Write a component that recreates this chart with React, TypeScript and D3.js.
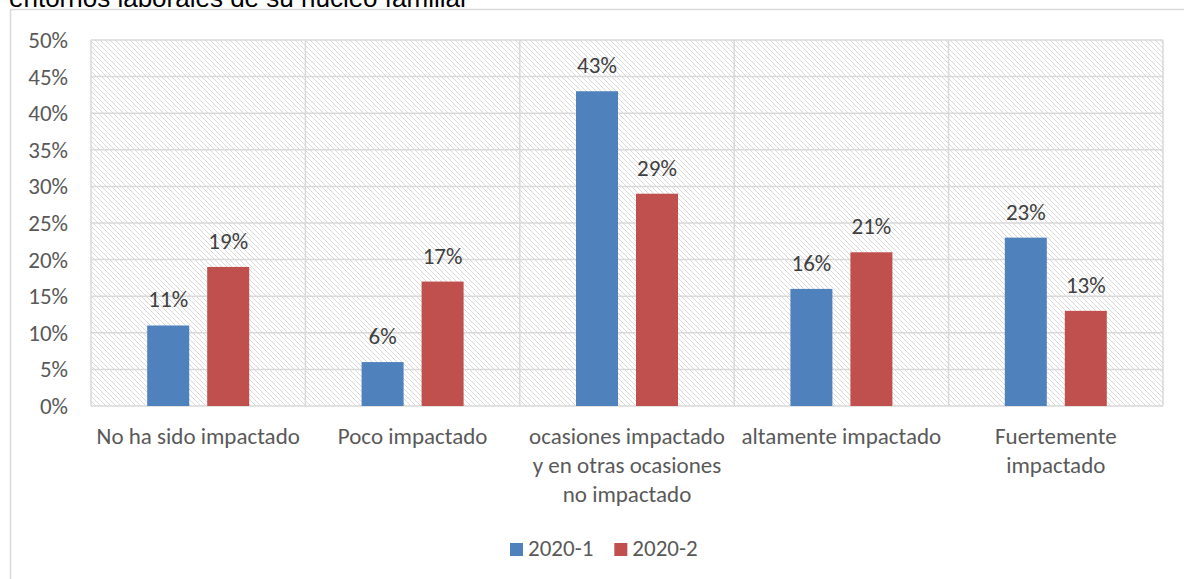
import * as d3 from "d3";
import React, { useEffect, useRef } from "react";

const categories = [
  ["No ha sido impactado"],
  ["Poco impactado"],
  ["ocasiones impactado", "y en otras ocasiones", "no impactado"],
  ["altamente impactado"],
  ["Fuertemente", "impactado"],
];
const series = ["2020-1", "2020-2"];
const values2020_1 = [11, 6, 43, 16, 23];
const values2020_2 = [19, 17, 29, 21, 13];
const yTicks = [0, 5, 10, 15, 20, 25, 30, 35, 40, 45, 50];
const colors = ["#4f81bd", "#c0504d"];

const FONT = "Carlito, Calibri, Lato, sans-serif";
const FS = 23;

export default function App() {
  const ref = useRef<SVGSVGElement | null>(null);

  useEffect(() => {
    const svg = d3.select(ref.current);
    svg.selectAll("*").remove();

    const width = 1184;
    const height = 579;
    const plot = { left: 91, right: 1163, top: 40, bottom: 406 };

    svg.attr("width", width).attr("height", height);

    const defs = svg.append("defs");
    const pat = defs
      .append("pattern")
      .attr("id", "hatch")
      .attr("patternUnits", "userSpaceOnUse")
      .attr("width", 5)
      .attr("height", 5);
    pat.append("rect").attr("width", 5).attr("height", 5).attr("fill", "#fff");
    pat
      .append("path")
      .attr("d", "M-1,-1 L6,6 M-1,4 L1,6 M4,-1 L6,1")
      .attr("stroke", "#dadada")
      .attr("stroke-width", 1);

    // title, cut off by the top edge as in the source picture
    svg
      .append("text")
      .attr("x", 9)
      .attr("y", 7)
      .attr("font-family", "Liberation Sans, Arial, sans-serif")
      .attr("font-size", 26)
      .attr("fill", "#000")
      .text("entornos laborales de su núcleo familiar");

    // outer frame
    svg
      .append("path")
      .attr("d", `M10.5,${height} L10.5,9.5 L${width},9.5`)
      .attr("fill", "none")
      .attr("stroke", "#d9d9d9")
      .attr("stroke-width", 1.5);

    const names = categories.map((c) => c.join(" "));
    const x0 = d3.scaleBand().domain(names).range([plot.left, plot.right]).padding(0);
    const bw = x0.bandwidth();
    const x1 = d3
      .scaleBand()
      .domain(series)
      .range([bw / 2 - 51, bw / 2 + 51])
      .paddingInner(0.3)
      .paddingOuter(0);
    const y = d3.scaleLinear().domain([0, 50]).range([plot.bottom, plot.top]);

    svg
      .append("rect")
      .attr("x", plot.left)
      .attr("y", plot.top)
      .attr("width", plot.right - plot.left)
      .attr("height", plot.bottom - plot.top)
      .attr("fill", "url(#hatch)");

    // gridlines
    const grid = svg.append("g").attr("stroke", "#d9d9d9").attr("stroke-width", 1.5);
    yTicks.forEach((t) => {
      grid
        .append("line")
        .attr("x1", plot.left)
        .attr("x2", plot.right)
        .attr("y1", y(t))
        .attr("y2", y(t));
    });
    names.forEach((n) => {
      grid
        .append("line")
        .attr("x1", x0(n)!)
        .attr("x2", x0(n)!)
        .attr("y1", plot.top)
        .attr("y2", plot.bottom);
    });
    grid
      .append("line")
      .attr("x1", plot.right)
      .attr("x2", plot.right)
      .attr("y1", plot.top)
      .attr("y2", plot.bottom);

    // y labels
    svg
      .append("g")
      .selectAll("text")
      .data(yTicks)
      .enter()
      .append("text")
      .attr("x", 68)
      .attr("y", (d) => y(d) + 8)
      .attr("text-anchor", "end")
      .attr("font-family", FONT)
      .attr("font-size", FS)
      .attr("fill", "#595959")
      .text((d) => `${d}%`);

    // bars
    const all = [values2020_1, values2020_2];
    all.forEach((vals, si) => {
      const g = svg.append("g");
      g.selectAll("rect")
        .data(vals)
        .enter()
        .append("rect")
        .attr("x", (_, i) => x0(names[i])! + x1(series[si])!)
        .attr("y", (d) => y(d))
        .attr("width", x1.bandwidth())
        .attr("height", (d) => y(0) - y(d))
        .attr("fill", colors[si]);
      g.selectAll("text")
        .data(vals)
        .enter()
        .append("text")
        .attr("x", (_, i) => x0(names[i])! + x1(series[si])! + x1.bandwidth() / 2)
        .attr("y", (d) => y(d) - 18)
        .attr("text-anchor", "middle")
        .attr("font-family", FONT)
        .attr("font-size", FS)
        .attr("fill", "#404040")
        .text((d) => `${d}%`);
    });

    // category labels
    categories.forEach((lines, i) => {
      const cx = x0(names[i])! + bw / 2;
      const t = svg
        .append("text")
        .attr("text-anchor", "middle")
        .attr("font-family", FONT)
        .attr("font-size", FS)
        .attr("fill", "#595959");
      lines.forEach((l, j) => {
        t.append("tspan")
          .attr("x", cx)
          .attr("y", 444 + j * 29)
          .text(l);
      });
    });

    // legend
    const legend = svg.append("g").attr("transform", "translate(510,549)");
    let lx = 0;
    series.forEach((s, i) => {
      legend
        .append("rect")
        .attr("x", lx)
        .attr("y", -6)
        .attr("width", 13)
        .attr("height", 13)
        .attr("fill", colors[i]);
      const txt = legend
        .append("text")
        .attr("x", lx + 18)
        .attr("y", 7)
        .attr("font-family", FONT)
        .attr("font-size", FS)
        .attr("fill", "#595959")
        .text(s);
      const w = (txt.node() as SVGTextElement).getComputedTextLength();
      lx += 18 + w + 21;
    });
  }, []);

  return <svg ref={ref} style={{ position: "absolute", left: 0, top: 0 }} />;
}
